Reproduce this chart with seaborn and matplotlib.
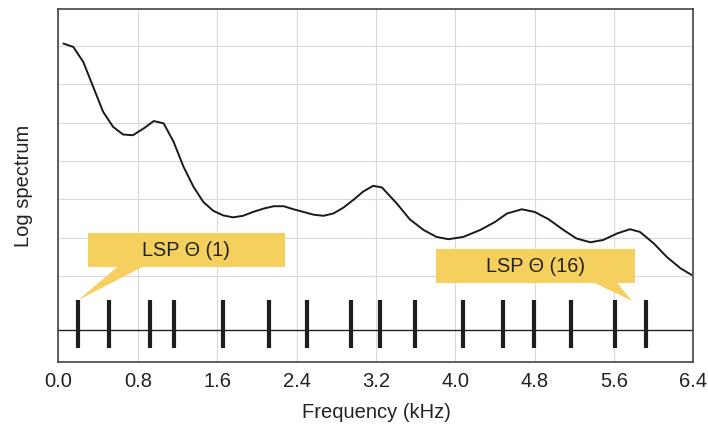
import numpy as np
import pandas as pd
import seaborn as sns
import matplotlib.pyplot as plt
from matplotlib.patches import Rectangle

# log spectrum envelope (frequency in kHz, arbitrary log units)
freq_khz = [0.05, 0.15, 0.25, 0.35, 0.45, 0.55, 0.65, 0.75, 0.86, 0.96,
            1.06, 1.16, 1.26, 1.36, 1.46, 1.56, 1.66, 1.76, 1.86, 1.96,
            2.07, 2.17, 2.27, 2.37, 2.47, 2.57, 2.67, 2.77, 2.87, 2.97,
            3.07, 3.17, 3.26, 3.41, 3.54, 3.68, 3.81, 3.93, 4.08, 4.25,
            4.40, 4.52, 4.67, 4.80, 4.94, 5.09, 5.22, 5.36, 5.49, 5.63,
            5.76, 5.86, 6.00, 6.13, 6.27, 6.38]
log_spec = [7.06, 6.97, 6.58, 5.93, 5.28, 4.89, 4.69, 4.67, 4.85, 5.04,
            4.98, 4.50, 3.85, 3.33, 2.93, 2.70, 2.58, 2.53, 2.57, 2.67,
            2.76, 2.82, 2.82, 2.74, 2.67, 2.60, 2.57, 2.63, 2.78, 2.98,
            3.20, 3.35, 3.31, 2.89, 2.48, 2.20, 2.02, 1.96, 2.02, 2.20,
            2.41, 2.63, 2.74, 2.67, 2.48, 2.20, 1.98, 1.88, 1.94, 2.11,
            2.22, 2.15, 1.85, 1.50, 1.20, 1.03]

# line spectral pair frequencies (kHz)
lsp_khz = [0.20, 0.51, 0.92, 1.16, 1.66, 2.12, 2.50, 2.95,
           3.24, 3.59, 4.08, 4.48, 4.79, 5.17, 5.61, 5.92]

x_ticks = [0.0, 0.8, 1.6, 2.4, 3.2, 4.0, 4.8, 5.6, 6.4]
x_tick_labels = ["0.0", "0.8", "1.6", "2.4", "3.2", "4.0", "4.8", "5.6", "6.4"]

baseline = -0.41
bar_top = 0.375
bar_bottom = -0.87
yellow = "#f5d05e"

sns.set_style("whitegrid", {"grid.color": "#d9d9d9", "axes.edgecolor": "#444444"})
plt.rcParams["font.family"] = ["Liberation Sans", "DejaVu Sans"]

fig = plt.figure(figsize=(7.08, 4.33), dpi=100)
ax = fig.add_axes([0.0826, 0.164, 0.8969, 0.8152])

df = pd.DataFrame({"freq": freq_khz, "spec": log_spec})
sns.lineplot(data=df, x="freq", y="spec", ax=ax, color="#1a1a1a", linewidth=1.4)

ax.axhline(baseline, color="#222222", linewidth=1.0, zorder=2)
ax.vlines(lsp_khz, bar_bottom, bar_top, color="#1e1e1e", linewidth=3.0, zorder=3)

# callout boxes
def callout(x0, x1, y0, y1, label, base0, base1, tip):
    ax.add_patch(Rectangle((x0, y0), x1 - x0, y1 - y0, facecolor=yellow,
                           edgecolor="none", zorder=4))
    ax.fill([base0, base1, tip[0]], [y0 + 0.01, y0 + 0.01, tip[1]],
            color=yellow, edgecolor="none", zorder=4)
    ax.text((x0 + x1) / 2, (y0 + y1) / 2, label, ha="center", va="center",
            fontsize=14.3, color="#222222", zorder=5)

callout(0.30, 2.28, 1.24, 2.11, "LSP \u0398 (1)", 0.60, 0.855,
        (lsp_khz[0], bar_top))
callout(3.805, 5.81, 0.825, 1.695, "LSP \u0398 (16)", 5.39, 5.627,
        (lsp_khz[-1] - 0.14, bar_top - 0.02))

ax.set_xlim(0, 6.4)
ax.set_ylim(-1.24, 7.96)
ax.set_xticks(x_ticks)
ax.set_xticklabels(x_tick_labels)
ax.set_yticks(range(1, 8))
ax.set_yticklabels([])
ax.tick_params(axis="x", labelsize=14.5, pad=7, colors="#222222", length=0)
ax.tick_params(axis="y", length=0)
ax.set_xlabel("Frequency (kHz)", fontsize=14.5, color="#222222", labelpad=9)
ax.set_ylabel("Log spectrum", fontsize=14.5, color="#222222", labelpad=15)
for s in ax.spines.values():
    s.set_linewidth(1.2)
    s.set_color("#444444")

fig.savefig("out.png", dpi=100)
